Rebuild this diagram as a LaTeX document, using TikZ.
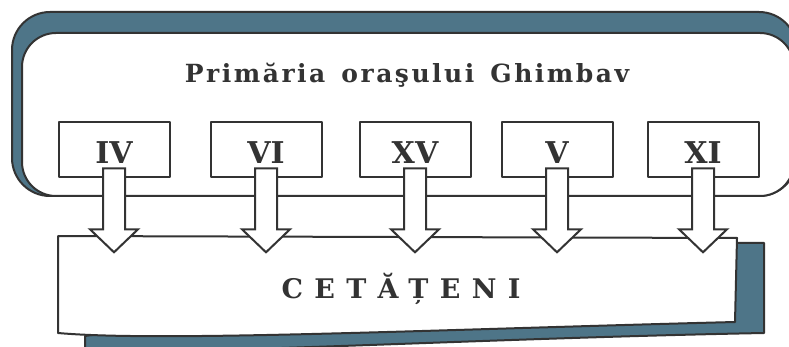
\documentclass[tikz,border=0pt]{standalone}
\usepackage{fontspec}
\setmainfont{DejaVu Serif}
\usetikzlibrary{calc}
\definecolor{shadowblue}{HTML}{4E7588}
\definecolor{inkgray}{HTML}{333333}
\tikzset{
  frame/.style={draw=inkgray, line width=2pt, line join=round},
  shadowfill/.style={frame, fill=shadowblue},
  numbox/.style={frame, fill=white, minimum width=111pt, minimum height=55pt, inner sep=0pt,
                 text height=27pt, text depth=0pt, text=inkgray,
                 font=\bfseries\fontsize{30}{30}\selectfont},
  titletext/.style={text=inkgray, font=\bfseries\fontsize{25}{25}\selectfont\addfontfeature{LetterSpace=10}},
  citbox/.style={minimum width=679pt, minimum height=97pt, inner sep=0pt,
                 text height=27pt, text depth=0pt, text=inkgray,
                 font=\bfseries\fontsize{27}{27}\selectfont\addfontfeature{LetterSpace=42}},
  blockarrow/.style={frame, fill=white, line join=miter},
}
% hollow arrow from a number box down into the citizens box
\newcommand{\blockarrow}[2]{%
  \filldraw[blockarrow] let \p1=(#1.south), \p2=(#2.north) in
    (\x1-11pt,\y1+10pt) -- (\x1+11pt,\y1+10pt) -- (\x1+11pt,\y2+7pt) -- (\x1+24pt,\y2+7pt)
    -- (\x1,\y2-16pt) -- (\x1-24pt,\y2+7pt) -- (\x1-11pt,\y2+7pt) -- cycle;}

\begin{document}
\begin{tikzpicture}[x=1pt, y=-1pt]
  \useasboundingbox (0,0) rectangle (789,347);

  % town hall frame
  \draw[shadowfill, rounded corners=38pt] (12,12) rectangle (797,196);
  \draw[frame, fill=white, rounded corners=34pt] (22,33) rectangle (794,196);
  \node[titletext, anchor=base] (title) at (407,83) {Primăria\hspace{16pt}oraşului\hspace{16pt}Ghimbav};

  \node[numbox] (boxIV) at (114,150) {IV};
  \node[numbox] (boxVI) at (266,150) {VI};
  \node[numbox] (boxXV) at (415,150) {XV};
  \node[numbox] (boxV)  at (557,150) {V};
  \node[numbox] (boxXI) at (703,150) {XI};

  % citizens box
  \draw[shadowfill] (735,243) -- (764,243) -- (764,333)
    .. controls (500,338) and (250,352) .. (85,352) -- (85,336) -- cycle;
  \draw[frame, fill=white] (58,236) -- (737,238) -- (735,322)
    .. controls (420,330) and (160,342) .. (58,333) -- cycle;
  \node[citbox] (cit) at (401,285) {CETĂȚENI};

  \blockarrow{boxIV}{cit}
  \blockarrow{boxVI}{cit}
  \blockarrow{boxXV}{cit}
  \blockarrow{boxV}{cit}
  \blockarrow{boxXI}{cit}
\end{tikzpicture}
\end{document}
